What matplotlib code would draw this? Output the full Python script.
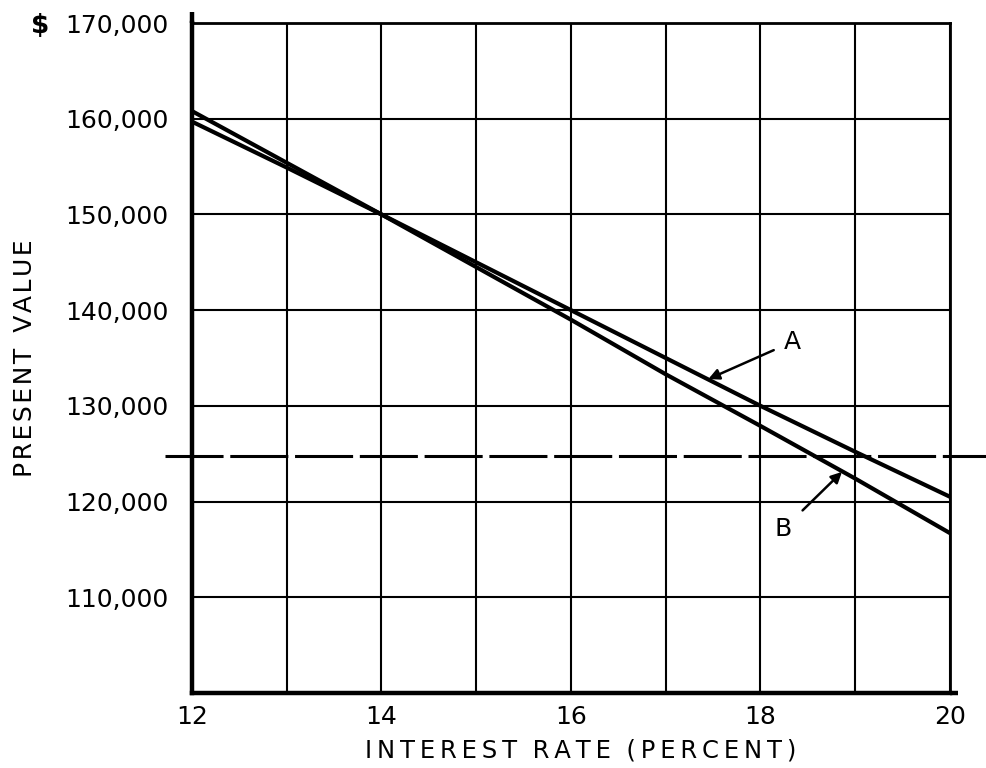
#!/usr/bin/env python3
"""Present value of two alternatives A and B versus interest rate."""

import matplotlib.pyplot as plt

rates = [12, 13, 14, 15, 16, 17, 18, 19, 20]
pv_a = [159700, 154900, 150000, 145000, 140000, 135000, 130000, 125200, 120500]
pv_b = [160800, 155400, 150000, 144500, 139000, 133300, 127900, 122400, 116700]
cost_level = 124800

x_ticks = [12, 13, 14, 15, 16, 17, 18, 19, 20]
x_labels = ['12', '', '14', '', '16', '', '18', '', '20']
y_ticks = [110000, 120000, 130000, 140000, 150000, 160000, 170000]
y_labels = ['110,000', '120,000', '130,000', '140,000', '150,000', '160,000', '170,000']


def spaced(text, gap='\u2009'):
    # widen the lettering like the hand-lettered original
    return ' '.join(gap.join(word) for word in text.split(' '))


def main():
    plt.rcParams['font.family'] = ['DejaVu Sans']
    fig = plt.figure(figsize=(9.87, 7.68), dpi=100)
    ax = fig.add_axes([0.1945, 0.0977, 0.768, 0.8723])

    ax.set_xlim(12, 20)
    ax.set_ylim(100000, 170000)
    ax.set_xticks(x_ticks)
    ax.set_xticklabels(x_labels, fontsize=18)
    ax.set_yticks(y_ticks)
    ax.set_yticklabels(y_labels, fontsize=18)
    ax.tick_params(axis='both', length=0)
    ax.tick_params(axis='y', pad=17)
    ax.tick_params(axis='x', pad=9)
    ax.grid(True, color='black', lw=1.5)

    for side in ('left', 'bottom'):
        ax.spines[side].set_linewidth(3.2)
    for side in ('top', 'right'):
        ax.spines[side].set_linewidth(2.0)

    # spine overshoots
    ax.plot([0, 0], [1, 1.016], transform=ax.transAxes, color='black',
            lw=3.2, clip_on=False, solid_capstyle='butt')
    ax.plot([1, 1.01], [0, 0], transform=ax.transAxes, color='black',
            lw=3.2, clip_on=False, solid_capstyle='butt')

    ax.plot(rates, pv_a, color='black', lw=3.0, solid_capstyle='round', zorder=3)
    ax.plot(rates, pv_b, color='black', lw=3.0, solid_capstyle='round', zorder=3)

    ax.plot([-0.035, 1.06], [cost_level, cost_level], transform=ax.get_yaxis_transform(),
            color='black', lw=2.2, ls=(0, (19, 2.2)), clip_on=False, zorder=2)

    ax.annotate('A', xy=(17.45, 132800), xytext=(18.34, 136700), fontsize=18,
                ha='center', va='center',
                arrowprops=dict(arrowstyle='-|>', color='black', lw=1.8,
                                mutation_scale=16, shrinkA=6, shrinkB=0))
    ax.annotate('B', xy=(18.86, 123100), xytext=(18.24, 117100), fontsize=18,
                ha='center', va='center',
                arrowprops=dict(arrowstyle='-|>', color='black', lw=1.8,
                                mutation_scale=16, shrinkA=8, shrinkB=0))

    ax.text(-0.2, 170000, '$', transform=ax.get_yaxis_transform(), fontsize=19,
            fontweight='bold', ha='center', va='center_baseline')

    ax.set_xlabel(spaced('INTEREST  RATE  (PERCENT)'), fontsize=17.5)
    ax.xaxis.set_label_coords(0.513, -0.068)
    ax.set_ylabel(spaced('PRESENT  VALUE', '\u200a'), fontsize=18, labelpad=20)

    fig.savefig('out.png', dpi=100)


if __name__ == '__main__':
    main()
